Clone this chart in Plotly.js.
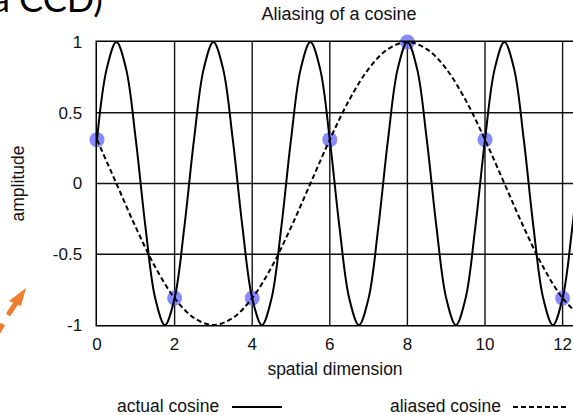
<!DOCTYPE html>
<html>
<head>
<meta charset="utf-8">
<script src="https://cdn.plot.ly/plotly-3.0.1.min.js"></script>
<style>
  html, body { margin: 0; padding: 0; background: #fff; }
  #chart { width: 573px; height: 415px; }
  /* even, antialiased grid and frame strokes */
  #chart path.crisp { shape-rendering: geometricPrecision !important; }
</style>
</head>
<body>
<div id="chart"></div>
<script>
// Actual cosine (period 2.5), read every 0.25 units along the spatial axis
const actualX = [0, 0.25, 0.5, 0.75, 1, 1.25, 1.5, 1.75, 2, 2.25,
                 2.5, 2.75, 3, 3.25, 3.5, 3.75, 4, 4.25, 4.5, 4.75,
                 5, 5.25, 5.5, 5.75, 6, 6.25, 6.5, 6.75, 7, 7.25,
                 7.5, 7.75, 8, 8.25, 8.5, 8.75, 9, 9.25, 9.5, 9.75,
                 10, 10.25, 10.5, 10.75, 11, 11.25, 11.5, 11.75, 12, 12.25, 12.5];
const actualY = [0.31, 0.81, 1, 0.81, 0.31, -0.31, -0.81, -1, -0.81, -0.31,
                 0.31, 0.81, 1, 0.81, 0.31, -0.31, -0.81, -1, -0.81, -0.31,
                 0.31, 0.81, 1, 0.81, 0.31, -0.31, -0.81, -1, -0.81, -0.31,
                 0.31, 0.81, 1, 0.81, 0.31, -0.31, -0.81, -1, -0.81, -0.31,
                 0.31, 0.81, 1, 0.81, 0.31, -0.31, -0.81, -1, -0.81, -0.31, 0.31];

// Aliased cosine (period 10), read every 0.5 units
const aliasX = [0, 0.5, 1, 1.5, 2, 2.5, 3, 3.5, 4, 4.5, 5, 5.5, 6, 6.5,
                7, 7.5, 8, 8.5, 9, 9.5, 10, 10.5, 11, 11.5, 12, 12.5];
const aliasY = [0.31, 0, -0.31, -0.59, -0.81, -0.95, -1, -0.95, -0.81, -0.59, -0.31, 0, 0.31, 0.59,
                0.81, 0.95, 1, 0.95, 0.81, 0.59, 0.31, 0, -0.31, -0.59, -0.81, -0.95];

// Samples taken every 2 units
const sampleX = [0, 2, 4, 6, 8, 10, 12];
const sampleY = [0.31, -0.81, -0.81, 0.31, 1, 0.31, -0.81];

const xTicks = [0, 2, 4, 6, 8, 10, 12];
const yTicks = [-1, -0.5, 0, 0.5, 1];
const yTickText = ['-1', '-0.5', '0', '0.5', '1'];

const W = 573, H = 415;
const M = { l: 97, r: 0, t: 42, b: 90 };
const px = v => (v - M.l) / (W - M.l - M.r);
const py = v => (H - M.b - v) / (H - M.t - M.b);

const FONT = 'Liberation Sans, Arial, Helvetica, sans-serif';
const INK = '#111';
const LABEL = { family: FONT, size: 17.5, color: INK };

const traces = [
  {
    x: sampleX, y: sampleY, mode: 'markers', type: 'scatter',
    marker: { size: 15, color: 'rgba(105,105,255,0.78)', line: { width: 0 } },
    cliponaxis: false, hoverinfo: 'skip', showlegend: false
  },
  {
    x: actualX, y: actualY, mode: 'lines', type: 'scatter', name: 'actual cosine',
    line: { color: '#000', width: 2, shape: 'spline', smoothing: 1 },
    showlegend: false
  },
  {
    x: aliasX, y: aliasY, mode: 'lines', type: 'scatter', name: 'aliased cosine',
    line: { color: '#000', width: 2, dash: '5px,3px', shape: 'spline', smoothing: 1 },
    showlegend: false
  }
];

const axisBase = {
  showline: true, linecolor: '#000', linewidth: 1.5,
  showgrid: true, gridcolor: '#111', gridwidth: 1.4,
  zeroline: false, ticks: '', fixedrange: true,
  tickfont: { family: FONT, size: 17, color: INK }
};

const layout = {
  width: W, height: H,
  margin: M,
  paper_bgcolor: '#fff', plot_bgcolor: '#fff',
  showlegend: false,
  title: {
    text: 'Aliasing of a cosine',
    font: { family: FONT, size: 18, color: INK },
    xref: 'container', yref: 'container',
    x: 339 / W, xanchor: 'center',
    y: 1 - 14 / H, yanchor: 'middle'
  },
  xaxis: Object.assign({}, axisBase, {
    range: [0, (W - M.l - M.r) / 38.8],
    tickvals: xTicks, ticktext: xTicks.map(String),
    mirror: true, ticklabelstandoff: 3,
    title: { text: 'spatial dimension', font: LABEL, standoff: 10 }
  }),
  yaxis: Object.assign({}, axisBase, {
    range: [-1, 1],
    tickvals: yTicks, ticktext: yTickText,
    mirror: false, ticklabelstandoff: 10,
    title: { text: 'amplitude', font: LABEL, standoff: 23 }
  }),
  annotations: [
    // legend entries
    { xref: 'paper', yref: 'paper', x: px(220), y: py(406), xanchor: 'right', yanchor: 'middle',
      borderpad: 0, text: 'actual cosine', showarrow: false, font: LABEL },
    { xref: 'paper', yref: 'paper', x: px(502), y: py(406), xanchor: 'right', yanchor: 'middle',
      borderpad: 0, text: 'aliased cosine', showarrow: false, font: LABEL },
    // slide caption running off the top edge
    { xref: 'paper', yref: 'paper', x: px(105), y: py(-2), xanchor: 'right', yanchor: 'middle',
      text: 'a CCD)', showarrow: false, font: { family: 'Lato, Open Sans, sans-serif', size: 36, color: '#000' } }
  ],
  shapes: [
    // legend line samples
    { type: 'line', xref: 'paper', yref: 'paper', x0: px(232), x1: px(282), y0: py(407), y1: py(407),
      line: { color: '#000', width: 2 } },
    { type: 'line', xref: 'paper', yref: 'paper', x0: px(513), x1: px(566), y0: py(407), y1: py(407),
      line: { color: '#000', width: 2, dash: '5px,3px' } },
    // orange dashed pointer
    { type: 'line', xref: 'paper', yref: 'paper', x0: px(16), y0: py(303), x1: px(8), y1: py(315),
      line: { color: '#ED7D31', width: 5 } },
    { type: 'line', xref: 'paper', yref: 'paper', x0: px(3), y0: py(324), x1: px(-3), y1: py(334),
      line: { color: '#ED7D31', width: 5 } },
    { type: 'path', xref: 'paper', yref: 'paper',
      path: 'M ' + px(26) + ',' + py(288) + ' L ' + px(9) + ',' + py(301) + ' L ' + px(21) + ',' + py(306) + ' Z',
      fillcolor: '#ED7D31', line: { width: 0 } }
  ]
};

Plotly.newPlot('chart', traces, layout, { displayModeBar: false, staticPlot: true });
</script>
</body>
</html>
